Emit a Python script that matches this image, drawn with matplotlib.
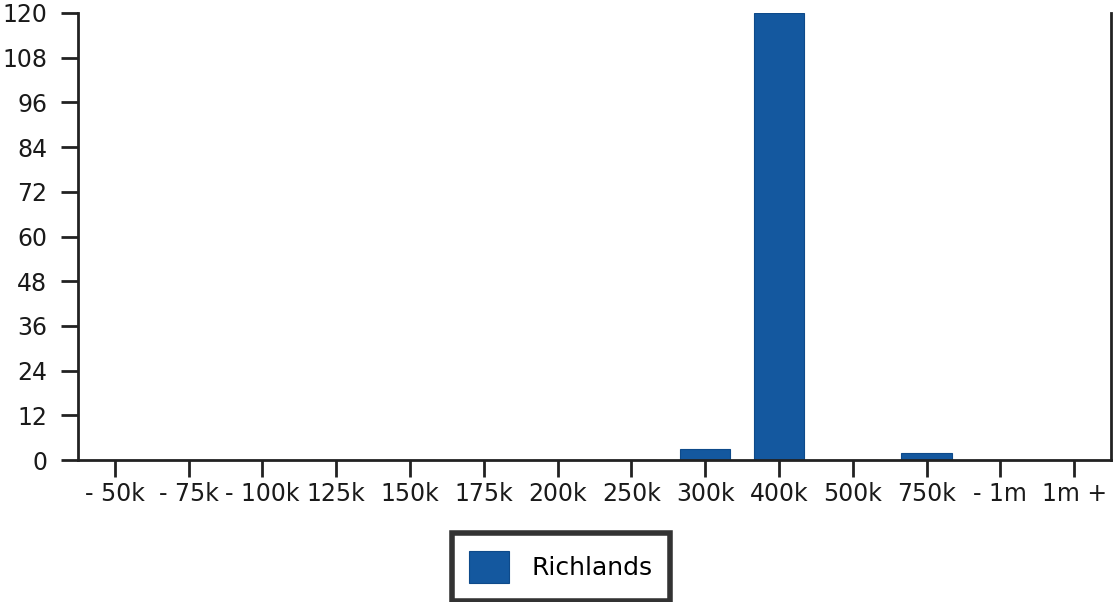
import matplotlib
matplotlib.use('Agg')
import matplotlib.pyplot as plt
import numpy as np

# price bands and counts
bands = ['- 50k', '- 75k', '- 100k', '125k', '150k', '175k', '200k',
         '250k', '300k', '400k', '500k', '750k', '- 1m', '1m +']
counts = [0, 0, 0, 0, 0, 0, 0, 0, 3, 120, 0, 2, 0, 0]
yticks = [0, 12, 24, 36, 48, 60, 72, 84, 96, 108, 120]
series = 'Richlands'

bar_color = '#14589f'
ink = '#222222'

fig = plt.figure(figsize=(11.13, 6.02), dpi=100)
ax = fig.add_axes([78 / 1113, 1 - 460 / 602, (1111 - 78) / 1113, (460 - 13) / 602])

x = np.arange(len(bands))
ax.bar(x, counts, width=0.68, color=bar_color, edgecolor='#0e4a8a',
       linewidth=0.8, label=series, zorder=2)

ax.set_xlim(-0.5, len(bands) - 0.5)
ax.set_ylim(0, 120)
ax.set_yticks(yticks)
ax.set_xticks(x)
ax.set_xticklabels(bands)

ax.spines['top'].set_visible(False)
for side in ['left', 'right', 'bottom']:
    ax.spines[side].set_linewidth(2)
    ax.spines[side].set_color(ink)

ax.tick_params(axis='both', length=12, width=2, color=ink,
               labelsize=17, labelcolor='#1a1a1a')
ax.tick_params(axis='y', pad=10)
ax.tick_params(axis='x', pad=4)

leg = fig.legend(loc='center', bbox_to_anchor=(561 / 1113, 1 - 567 / 602),
                 fontsize=18, handlelength=1.6, handleheight=1.6,
                 borderpad=0.7, handletextpad=0.9, borderaxespad=0,
                 fancybox=False, framealpha=1)
leg.get_frame().set_edgecolor('#333333')
leg.get_frame().set_linewidth(4)

fig.savefig('out.png', dpi=100)
